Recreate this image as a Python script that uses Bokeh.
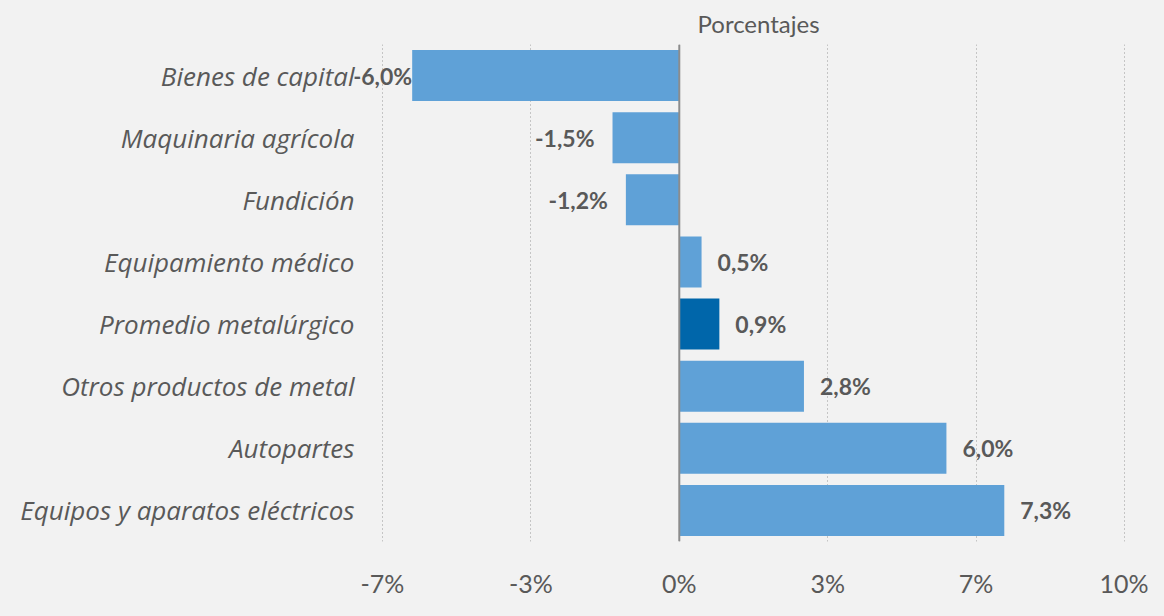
from bokeh.plotting import figure
from bokeh.models import ColumnDataSource, FactorRange, Span, FixedTicker, Title, LabelSet
from bokeh.embed import file_html
from bokeh.resources import INLINE
from bokeh.core.properties import value

categories = ["Bienes de capital", "Maquinaria agrícola", "Fundición", "Equipamiento médico",
              "Promedio metalúrgico", "Otros productos de metal", "Autopartes",
              "Equipos y aparatos eléctricos"]
values = [-6.0, -1.5, -1.2, 0.5, 0.9, 2.8, 6.0, 7.3]
highlight = "Promedio metalúrgico"
tick_values = [-20/3, -10/3, 0, 10/3, 20/3, 10]
tick_labels = ["-7%", "-3%", "0%", "3%", "7%", "10%"]
title_text = "Porcentajes"

BG = "#f2f2f2"
TXT = "#595959"
NUMFONT = "Lato"
CATFONT = "Open Sans"

colors = ["#0066aa" if c == highlight else "#5fa1d7" for c in categories]
labels = [("%.1f%%" % v).replace(".", ",") for v in values]

src = ColumnDataSource(dict(cat=categories, val=values, color=colors))

pos = [i for i, v in enumerate(values) if v >= 0]
neg = [i for i, v in enumerate(values) if v < 0]
src_pos = ColumnDataSource(dict(cat=[categories[i] for i in pos], val=[values[i] for i in pos],
                                lab=[labels[i] for i in pos]))
src_neg = ColumnDataSource(dict(cat=[categories[i] for i in neg], val=[values[i] for i in neg],
                                lab=[labels[i] for i in neg],
                                off=[0 if values[i] < -5 else -18 for i in neg]))

# frame spans a bit left of the first tick so the "-6,0%" label is not clipped
frame_left, frame_right = 354, 1125
px_per_unit = (1124 - 382) / (tick_values[-1] - tick_values[0])
x_start = tick_values[0] - (382 - frame_left) / px_per_unit
x_end = tick_values[-1] + (frame_right - 1124) / px_per_unit

p = figure(width=1148, height=600, output_backend="svg", toolbar_location=None,
           y_range=FactorRange(*reversed(categories), range_padding=0),
           x_range=(x_start, x_end),
           min_border_left=frame_left, min_border_right=1148 - frame_right,
           min_border_top=43, min_border_bottom=52,
           background_fill_color=BG, border_fill_color=BG, outline_line_color=None)

p.hbar(y="cat", right="val", left=0, height=0.82, color="color", source=src, line_color=None)

p.add_layout(Span(location=0, dimension="height", line_color="#8c8c8c", line_width=2))

common = dict(x="val", y="cat", text="lab", text_baseline="middle", text_font=value(NUMFONT),
              text_font_style="bold", text_font_size="23px", text_color=TXT)
p.add_layout(LabelSet(source=src_pos, x_offset=16, text_align="left", **common))
p.add_layout(LabelSet(source=src_neg, x_offset="off", text_align="right", **common))

p.title = Title(text=title_text, align="left", text_font=NUMFONT, text_font_size="24px",
                text_font_style="normal", text_color=TXT, offset=697 - frame_left)
p.title.standoff = 13

p.xaxis.ticker = FixedTicker(ticks=tick_values)
p.xaxis.major_label_overrides = {t: l for t, l in zip(tick_values, tick_labels)}
p.xaxis.axis_line_color = None
p.xaxis.major_tick_line_color = None
p.xaxis.minor_tick_line_color = None
p.xaxis.major_label_standoff = 20
p.xaxis.major_label_text_font = NUMFONT
p.xaxis.major_label_text_font_size = "25px"
p.xaxis.major_label_text_color = TXT

p.yaxis.axis_line_color = None
p.yaxis.major_tick_line_color = None
p.yaxis.major_label_standoff = -6
p.yaxis.major_label_text_font = CATFONT
p.yaxis.major_label_text_font_size = "26px"
p.yaxis.major_label_text_font_style = "italic"
p.yaxis.major_label_text_color = TXT

p.xgrid.grid_line_color = "#999999"
p.xgrid.grid_line_dash = "1 3"
p.xgrid.grid_line_width = 1
p.ygrid.grid_line_color = None

html = file_html(p, INLINE)
html = html.replace("<head>", "<head><style>body{background:#f2f2f2;}</style>", 1)
open("out.html", "w").write(html)
